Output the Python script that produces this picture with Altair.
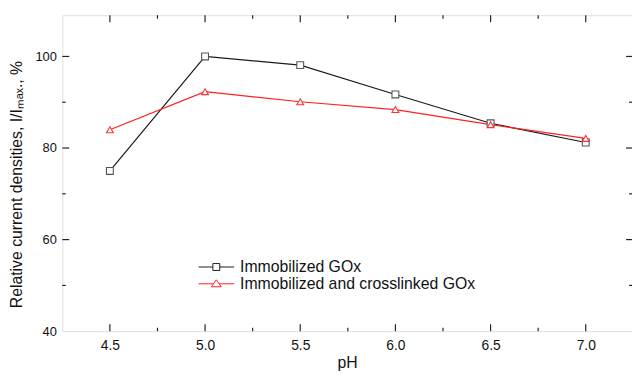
import altair as alt
import pandas as pd

# ---- data ----
ph = [4.5, 5.0, 5.5, 6.0, 6.5, 7.0]
immobilized = [75.0, 100.0, 98.1, 91.7, 85.4, 81.2]
crosslinked = [84.0, 92.3, 90.1, 88.4, 85.1, 82.1]
series_names = ["Immobilized GOx", "Immobilized and crosslinked GOx"]
line_colors = ["#1a1a1a", "#ff2020"]
marker_colors = ["#555555", "#ff3030"]
marker_shapes = ["square", "triangle-up"]
legend_shapes = [
    "M-3.6,0H-0.7M0.7,0H3.6M-0.7,-0.7H0.7V0.7H-0.7Z",
    "M-3.6,0H-0.57M0.57,0H3.6M0,-0.8L1.0,0.6H-1.0Z",
]
x_major = [4.5, 5.0, 5.5, 6.0, 6.5, 7.0]
x_minor = [4.75, 5.25, 5.75, 6.25, 6.75]
y_major = [60, 80, 100]
y_minor = [50, 70, 90]
y_labels = [40, 60, 80, 100]

df = pd.DataFrame({
    "pH": ph * 2,
    "value": immobilized + crosslinked,
    "series": [series_names[0]] * len(ph) + [series_names[1]] * len(ph),
})

W, H = 577, 320
FONT = "Liberation Sans"

xscale = alt.Scale(domain=[4.25, 7.243], nice=False, zero=False)
yscale = alt.Scale(domain=[40, 109], nice=False, zero=False)

xaxis = alt.Axis(title="pH", values=x_major, format=".1f", domain=False, ticks=False,
                 grid=False, labelFontSize=14, labelFont=FONT, labelColor="#111",
                 labelPadding=8, titleFontSize=16, titleFont=FONT,
                 titleFontWeight="normal", titleColor="#111",
                 titleBaseline="middle", titleY=32)
yaxis = alt.Axis(title="Relative current densities, I/Iₘₐₓ., %", values=y_labels,
                 domain=False, ticks=False, grid=False, labelFontSize=13,
                 labelFont=FONT, labelColor="#111", labelPadding=6,
                 titleFontSize=16, titleFont=FONT, titleFontWeight="normal",
                 titleColor="#111", titleBaseline="middle", titleX=-46, titleY=171)

X = alt.X("pH:Q", scale=xscale, axis=xaxis)
Y = alt.Y("value:Q", scale=yscale, axis=yaxis)

lines = alt.Chart(df).mark_line(strokeWidth=1.2).encode(
    x=X, y=Y,
    color=alt.Color("series:N", scale=alt.Scale(domain=series_names, range=line_colors), legend=None),
)

points = alt.Chart(df).mark_point(filled=False, fill="white", size=48, strokeWidth=1.1, opacity=1).encode(
    x=X, y=Y,
    color=alt.Color("series:N", scale=alt.Scale(domain=series_names, range=marker_colors), legend=None),
    shape=alt.Shape("series:N", scale=alt.Scale(domain=series_names, range=marker_shapes), legend=None),
)

leg = alt.Legend(title=None, orient="none", legendX=148, legendY=247, labelFontSize=16,
                 labelFont=FONT, labelColor="#111", symbolSize=100, symbolStrokeWidth=1,
                 symbolOpacity=1, rowPadding=1, padding=0, labelOffset=16, labelLimit=0)

carrier = alt.Chart(df).transform_filter("datum.value < 0").mark_point(filled=False, size=100).encode(
    x=X, y=Y,
    color=alt.Color("series:N", scale=alt.Scale(domain=series_names, range=line_colors), legend=leg),
    shape=alt.Shape("series:N", scale=alt.Scale(domain=series_names, range=legend_shapes), legend=leg),
)

tick_color = "#222"
def xticks(vals, y0, y1):
    return alt.Chart(pd.DataFrame({"pH": vals})).mark_rule(color=tick_color, strokeWidth=1.2).encode(
        x=X, y=alt.value(y0), y2=alt.value(y1))

def yticks(vals, x0, x1):
    return alt.Chart(pd.DataFrame({"value": vals})).mark_rule(color=tick_color, strokeWidth=1.2).encode(
        y=Y, x=alt.value(x0), x2=alt.value(x1))

ticks = [
    xticks(x_major, H, H - 7), xticks(x_minor, H, H - 3.5),
    xticks(x_major, 0, 7), xticks(x_minor, 0, 3.5),
    yticks(y_major, 0, 7), yticks(y_minor, 0, 3.5),
    yticks(y_major, W, W - 6), yticks(y_minor, W, W - 3),
]

chart = alt.layer(lines, points, carrier, *ticks).resolve_scale(
    color="independent", shape="independent"
).properties(
    width=W, height=H,
    autosize=alt.AutoSizeParams(type="none"),
    padding={"left": 55, "top": 5, "right": 0, "bottom": 38},
).configure_view(stroke="#222", strokeWidth=1.4).configure(background="white")

chart.save("out.html", embed_options={"renderer": "svg", "actions": False})
